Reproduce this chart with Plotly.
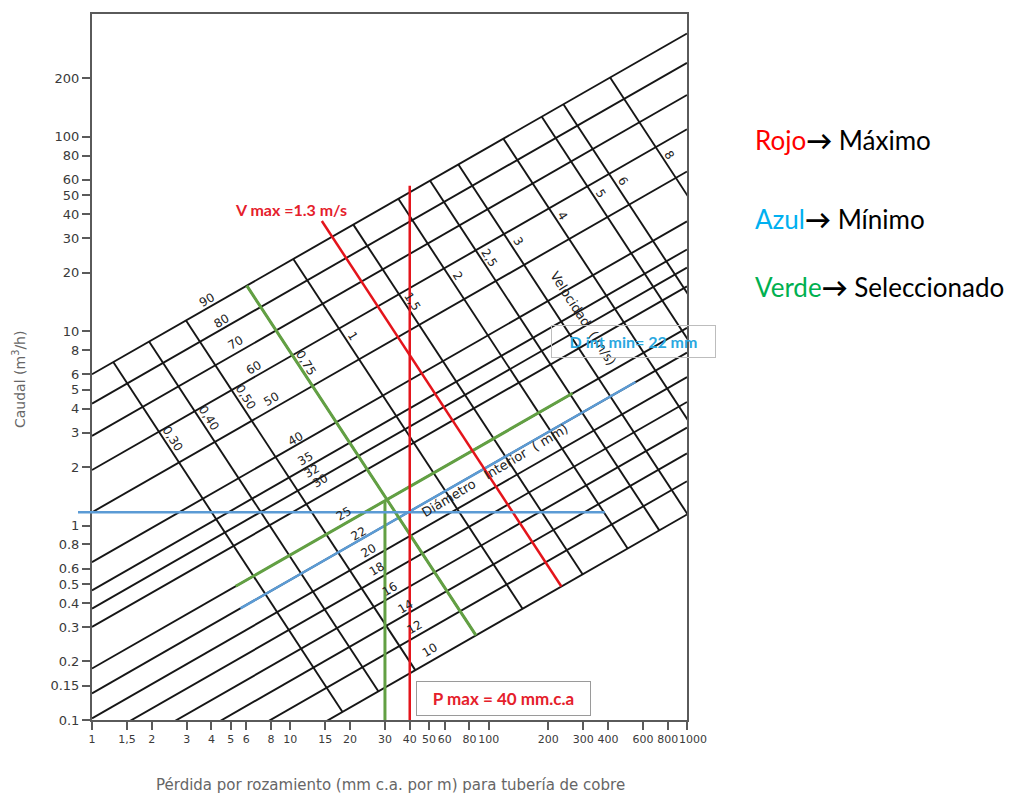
import numpy as np
import plotly.graph_objects as go

# Ábaco de pérdida de carga en tubería de cobre
# Eje X: pérdida por rozamiento J (mm c.a./m); eje Y: caudal Q (m³/h), ambos logarítmicos.

# Líneas de diámetro interior (mm): caudal en J = 1 y en J = 1000 mm c.a./m
diametros_mm = [90, 80, 70, 60, 50, 40, 35, 32, 30, 25, 22, 20, 18, 16, 14, 12, 10]
caudal_en_j1 = [6.00, 4.24, 2.89, 1.93, 1.17, 0.648, 0.464, 0.374, 0.301, 0.184,
                0.137, 0.102, 0.0764, 0.0563, 0.0414, 0.0298, 0.0201]
caudal_en_j1000 = [339.5, 239.9, 163.8, 109.2, 66.2, 36.7, 26.3, 21.2, 17.0, 10.4,
                   7.76, 5.80, 4.32, 3.19, 2.35, 1.69, 1.14]
perdida_extremos = [1, 1000]

# Líneas de velocidad (m/s): extremo sobre la línea de 90 mm y sobre la de 10 mm
velocidades = [0.30, 0.40, 0.50, 0.75, 1, 1.5, 2, 2.5, 3, 4, 5, 6, 8]
velocidad_textos = ["0,30", "0,40", "0,50", "0,75", "1", "1,5", "2", "2,5", "3", "4", "5", "6", "8"]
vel_perdida_sup = [1.280, 1.939, 2.979, 6.03, 10.35, 20.78, 35.05, 50.64, 70.35, 118.6, 185.2, 238.1, 409.5]
vel_caudal_sup = [6.93, 8.84, 11.35, 17.13, 23.51, 35.30, 47.91, 59.4, 71.9, 97.7, 126.6, 146.8, 201.4]
vel_perdida_inf = [18.33, 27.77, 42.66, 86.3, 148.2, 297.6, 501.9, 725.2, 1007, 1698, 2652, 3410, 5864]
vel_caudal_inf = [0.110, 0.1406, 0.1805, 0.2724, 0.3738, 0.5613, 0.7618, 0.9445, 1.143, 1.553, 2.013, 2.334, 3.202]

# Valores marcados sobre el ábaco
p_max = 40          # mm c.a./m  (rojo)
v_max = 1.3         # m/s        (rojo)
d_int_min = 22      # mm         (azul)
caudal_min = 1.17   # m³/h       (azul, horizontal)
p_sel = 30          # mm c.a./m  (verde)
d_sel = 25          # mm         (verde)
v_sel = 0.75        # m/s        (verde)

# Tramos dibujados de cada línea marcada
tramo_p_max = [0.1, 56.0]         # caudal
tramo_d_min = [5.6, 550.0]        # pérdida
tramo_d_sel = [5.3, 265.0]        # pérdida
tramo_caudal_min = [0.85, 385.0]  # pérdida

# Escalas de los ejes
x_ticks = [1, 1.5, 2, 3, 4, 5, 6, 8, 10, 15, 20, 30, 40, 50, 60, 80, 100, 200, 300, 400, 600, 800, 1000]
x_ticktext = ["1", "1,5", "2", "3", "4", "5", "6", "8", "10", "15", "20", "30", "40", "50", "60",
              "80", "100", "200", "300", "400", "600", "800", "1000"]
y_ticks = [0.1, 0.15, 0.2, 0.3, 0.4, 0.5, 0.6, 0.8, 1, 2, 3, 4, 5, 6, 8, 10, 20, 30, 40, 50, 60, 80, 100, 200]
y_ticktext = ["0.1", "0.15", "0.2", "0.3", "0.4", "0.5", "0.6", "0.8", "1", "2", "3", "4", "5", "6", "8",
              "10", "20", "30", "40", "50", "60", "80", "100", "200"]
x_rango = [0, 3]
y_rango = [-1, 2.631]

# Colocación de los rótulos del ábaco
diam_rotulo_j = [3.79, 4.51, 5.26, 6.51, 8.06, 10.56, 11.86, 12.82, 14.12, 18.5, 22.0, 24.7, 27.3,
                 31.8, 37.9, 42.5, 50.6]
diam_rotulo_dy = [9, 8, 11, 10, 10, 7, 9, 12, 15, 11, 7, 9, 11, 9, 8, 10, 12]
vel_rotulo_t = 0.22

NEGRO = "#161616"
ROJO = "#E4141B"
VERDE = "#62A043"
AZUL = "#5B9BD5"
TXT = "#3a3a3a"

lj_ext = np.log10(perdida_extremos)


def caudal_diametro(d, j):
    """Caudal sobre la línea de diámetro d para la pérdida j."""
    i = diametros_mm.index(d)
    lq1, lq2 = np.log10(caudal_en_j1[i]), np.log10(caudal_en_j1000[i])
    f = (np.log10(j) - lj_ext[0]) / (lj_ext[1] - lj_ext[0])
    return 10 ** (lq1 + (lq2 - lq1) * f)


lv = np.log10(velocidades)


def linea_velocidad(v, t):
    """Punto (J, Q) a la fracción t de la línea de velocidad v (t=0 en 90 mm, t=1 en 10 mm)."""
    ljs = np.interp(np.log10(v), lv, np.log10(vel_perdida_sup))
    lqs = np.interp(np.log10(v), lv, np.log10(vel_caudal_sup))
    lji = np.interp(np.log10(v), lv, np.log10(vel_perdida_inf))
    lqi = np.interp(np.log10(v), lv, np.log10(vel_caudal_inf))
    t = np.asarray(t, dtype=float)
    return 10 ** (ljs + t * (lji - ljs)), 10 ** (lqs + t * (lqi - lqs))


fig = go.Figure()

# Retícula negra: diámetros
xs, ys = [], []
for q1, q2 in zip(caudal_en_j1, caudal_en_j1000):
    xs += perdida_extremos + [None]
    ys += [q1, q2, None]
fig.add_trace(go.Scatter(x=xs, y=ys, mode="lines", line=dict(color=NEGRO, width=1.9),
                         hoverinfo="skip"))

# Retícula negra: velocidades
xs, ys = [], []
for js, qs, ji, qi in zip(vel_perdida_sup, vel_caudal_sup, vel_perdida_inf, vel_caudal_inf):
    xs += [js, ji, None]
    ys += [qs, qi, None]
fig.add_trace(go.Scatter(x=xs, y=ys, mode="lines", line=dict(color=NEGRO, width=1.9),
                         hoverinfo="skip"))

# Azul: diámetro interior mínimo
jb = np.array(tramo_d_min)
fig.add_trace(go.Scatter(x=jb, y=caudal_diametro(d_int_min, jb), mode="lines",
                         line=dict(color=AZUL, width=2.5), hoverinfo="skip"))

# Verde: selección (diámetro, velocidad y pérdida)
jg = np.array(tramo_d_sel)
fig.add_trace(go.Scatter(x=jg, y=caudal_diametro(d_sel, jg), mode="lines",
                         line=dict(color=VERDE, width=3), hoverinfo="skip"))
jv, qv = linea_velocidad(v_sel, [0, 1])
fig.add_trace(go.Scatter(x=jv, y=qv, mode="lines",
                         line=dict(color=VERDE, width=3), hoverinfo="skip"))
fig.add_trace(go.Scatter(x=[p_sel, p_sel], y=[0.1, caudal_diametro(d_sel, p_sel)], mode="lines",
                         line=dict(color=VERDE, width=3), hoverinfo="skip"))

# Rojo: pérdida máxima y velocidad máxima
fig.add_trace(go.Scatter(x=[p_max, p_max], y=tramo_p_max, mode="lines",
                         line=dict(color=ROJO, width=2.5), hoverinfo="skip"))
jr, qr = linea_velocidad(v_max, [-0.045, 1])
fig.add_trace(go.Scatter(x=jr, y=qr, mode="lines",
                         line=dict(color=ROJO, width=2.5), hoverinfo="skip"))

# Azul: caudal mínimo (horizontal, sobresale del marco por la izquierda)
px0 = (np.log10(tramo_caudal_min[0]) - x_rango[0]) / (x_rango[1] - x_rango[0])
px1 = (np.log10(tramo_caudal_min[1]) - x_rango[0]) / (x_rango[1] - x_rango[0])
fig.add_shape(type="line", xref="paper", yref="y", x0=px0, x1=px1,
              y0=caudal_min, y1=caudal_min, line=dict(color=AZUL, width=2.5), layer="above")

anotaciones = []

# Rótulos de diámetro
for d, j, dy in zip(diametros_mm, diam_rotulo_j, diam_rotulo_dy):
    anotaciones.append(dict(x=np.log10(j), y=np.log10(caudal_diametro(d, j)), text=str(d),
                            showarrow=False, textangle=-30, yshift=dy,
                            xanchor="center", yanchor="middle",
                            font=dict(family="DejaVu Sans", size=12, color="#222")))

# Rótulos de velocidad
for v, txt in zip(velocidades, velocidad_textos):
    j, q = linea_velocidad(v, vel_rotulo_t)
    anotaciones.append(dict(x=np.log10(j), y=np.log10(q), text=txt, showarrow=False,
                            textangle=58, xshift=9, xanchor="center", yanchor="middle",
                            font=dict(family="DejaVu Sans", size=12, color="#222")))


def nota(x, y, text, **kw):
    d = dict(xref="paper", yref="paper", x=x, y=y, text=text, showarrow=False,
             xanchor="center", yanchor="middle")
    d.update(kw)
    anotaciones.append(d)


# El rótulo del último valor del eje X va algo desplazado a la derecha, fuera de la marca
ultimo = len(x_ticktext) - 1
rotulo_final = x_ticktext[ultimo]
x_ticktext_eje = x_ticktext[:ultimo] + [""]
anotaciones.append(dict(xref="x", yref="paper", x=np.log10(x_ticks[ultimo]), y=-0.0282,
                        text=rotulo_final, showarrow=False, xanchor="center", yanchor="middle",
                        xshift=6, font=dict(family="DejaVu Sans", size=11, color=TXT)))

# Títulos internos del ábaco
nota(0.825, 0.568, "Velocidad  ( m/s)", textangle=57,
     font=dict(family="DejaVu Sans", size=13, color="#222"))
nota(0.677, 0.353, "Diámetro   Interior  ( mm)", textangle=-31,
     font=dict(family="DejaVu Sans", size=13, color="#222"))

# Notas en rojo y azul
nota(0.334, 0.7227, "<b>V max =%s m/s</b>" % v_max,
     font=dict(family="Lato", size=16, color="#E5202B"))
nota(0.6908, 0.0306, "<b>P max = %d mm.c.a</b>" % p_max,
     width=157, height=17, borderpad=8, bordercolor="#9a9a9a", borderwidth=1,
     font=dict(family="Lato", size=17, color="#E5202B"))
nota(0.910, 0.536, "<b>D int min= %d mm</b>" % d_int_min,
     width=147, height=15, borderpad=8, bordercolor="#bdbdbd", borderwidth=1,
     font=dict(family="Lato", size=16, color="#2AA8E0"))

# Leyenda de colores
for y, col, palabra, sig in [(0.822, "#FF0000", "Rojo", "Máximo"),
                             (0.709, "#00B0F0", "Azul", "Mínimo"),
                             (0.614, "#00B050", "Verde", "Seleccionado")]:
    nota(1.111, y, '<span style="color:%s">%s</span><b>→</b> %s' % (col, palabra, sig),
         xanchor="left", font=dict(family="Lato", size=26, color="#000"))

# Títulos de los ejes
nota(-0.1227, 0.483, "Caudal (m<sup>3</sup>/h)", textangle=-90,
     font=dict(family="DejaVu Sans", size=14, color="#666"))
nota(0.5025, -0.0918, "Pérdida por rozamiento (mm c.a. por m) para tubería de cobre",
     font=dict(family="DejaVu Sans", size=15, color="#666"))

eje = dict(type="log", showgrid=False, zeroline=False, showline=True, mirror=True,
           linecolor="#5a5a5a", linewidth=2, ticks="outside", ticklen=8, tickwidth=1.5,
           tickcolor="#5a5a5a")

fig.update_layout(
    width=1018, height=794,
    margin=dict(l=92, r=331, t=12, b=74),
    plot_bgcolor="white", paper_bgcolor="white",
    showlegend=False,
    xaxis=dict(eje, range=x_rango, tickvals=x_ticks, ticktext=x_ticktext_eje, tickangle=0,
               tickfont=dict(family="DejaVu Sans", size=11, color=TXT)),
    yaxis=dict(eje, range=y_rango, tickvals=y_ticks, ticktext=y_ticktext,
               tickfont=dict(family="DejaVu Sans", size=13, color=TXT)),
    annotations=anotaciones,
)

fig.write_html("out.html")
